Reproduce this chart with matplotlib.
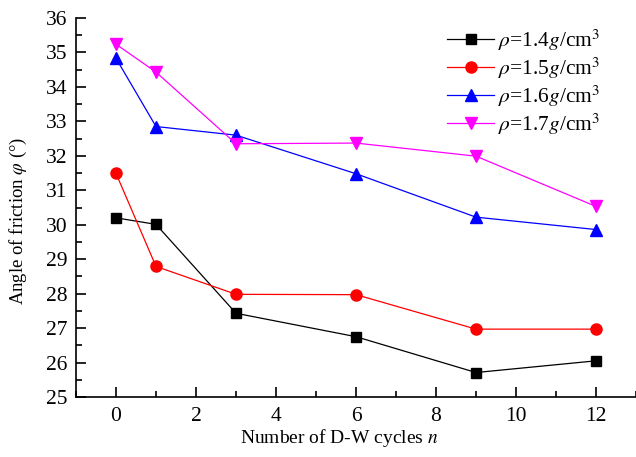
import matplotlib
matplotlib.use('Agg')
import matplotlib.pyplot as plt
from matplotlib.ticker import MultipleLocator

plt.rcParams['font.family'] = ['Liberation Serif', 'DejaVu Serif']
plt.rcParams['mathtext.fontset'] = 'stix'

cycles = [0, 1, 3, 6, 9, 12]
rho_14 = [30.20, 30.01, 27.43, 26.75, 25.71, 26.05]
rho_15 = [31.49, 28.79, 27.98, 27.97, 26.97, 26.97]
rho_16 = [34.83, 32.85, 32.60, 31.48, 30.22, 29.86]
rho_17 = [35.24, 34.43, 32.35, 32.37, 31.99, 30.53]

labels = [r'$\rho$=1.4$g$/cm$^3$', r'$\rho$=1.5$g$/cm$^3$',
          r'$\rho$=1.6$g$/cm$^3$', r'$\rho$=1.7$g$/cm$^3$']
colors = ['black', 'red', 'blue', 'magenta']
markers = ['s', 'o', '^', 'v']
sizes = [7.5, 8, 8.5, 8.5]

fig = plt.figure(figsize=(6.36, 4.57), dpi=100)
ax = fig.add_axes([0.1195, 0.1313, 0.8805, 0.8293])

for vals, lab, c, m, ms in zip([rho_14, rho_15, rho_16, rho_17], labels, colors, markers, sizes):
    ax.plot(cycles, vals, color=c, marker=m, markersize=ms, linewidth=0.9, label=lab)

ax.set_xlim(-1, 13)
ax.set_ylim(25, 36)
ax.xaxis.set_major_locator(MultipleLocator(2))
ax.xaxis.set_minor_locator(MultipleLocator(1))
ax.yaxis.set_major_locator(MultipleLocator(1))
ax.yaxis.set_minor_locator(MultipleLocator(0.5))
ax.tick_params(which='both', direction='in', labelsize=15.5, width=1.2)
ax.tick_params(which='major', length=7)
ax.tick_params(which='minor', length=4)
ax.tick_params(axis='x', pad=7)
ax.tick_params(axis='y', pad=6)
ax.spines['top'].set_visible(False)
ax.spines['right'].set_visible(False)
ax.spines['left'].set_linewidth(1.2)
ax.spines['bottom'].set_linewidth(1.2)

ax.set_xlabel(r'Number of D-W cycles $n$', fontsize=14)
ax.set_ylabel(r'Angle of friction $\varphi$ (°)', fontsize=13.5)
ax.xaxis.set_label_coords(0.471, -0.08)
ax.yaxis.set_label_coords(-0.084, 0.465)

ax.legend(loc='upper right', bbox_to_anchor=(0.935, 0.975), frameon=False,
          fontsize=15.4, handlelength=2.2, handletextpad=0.15, labelspacing=0.12,
          borderaxespad=0, borderpad=0)

fig.savefig('out.png', dpi=100)
